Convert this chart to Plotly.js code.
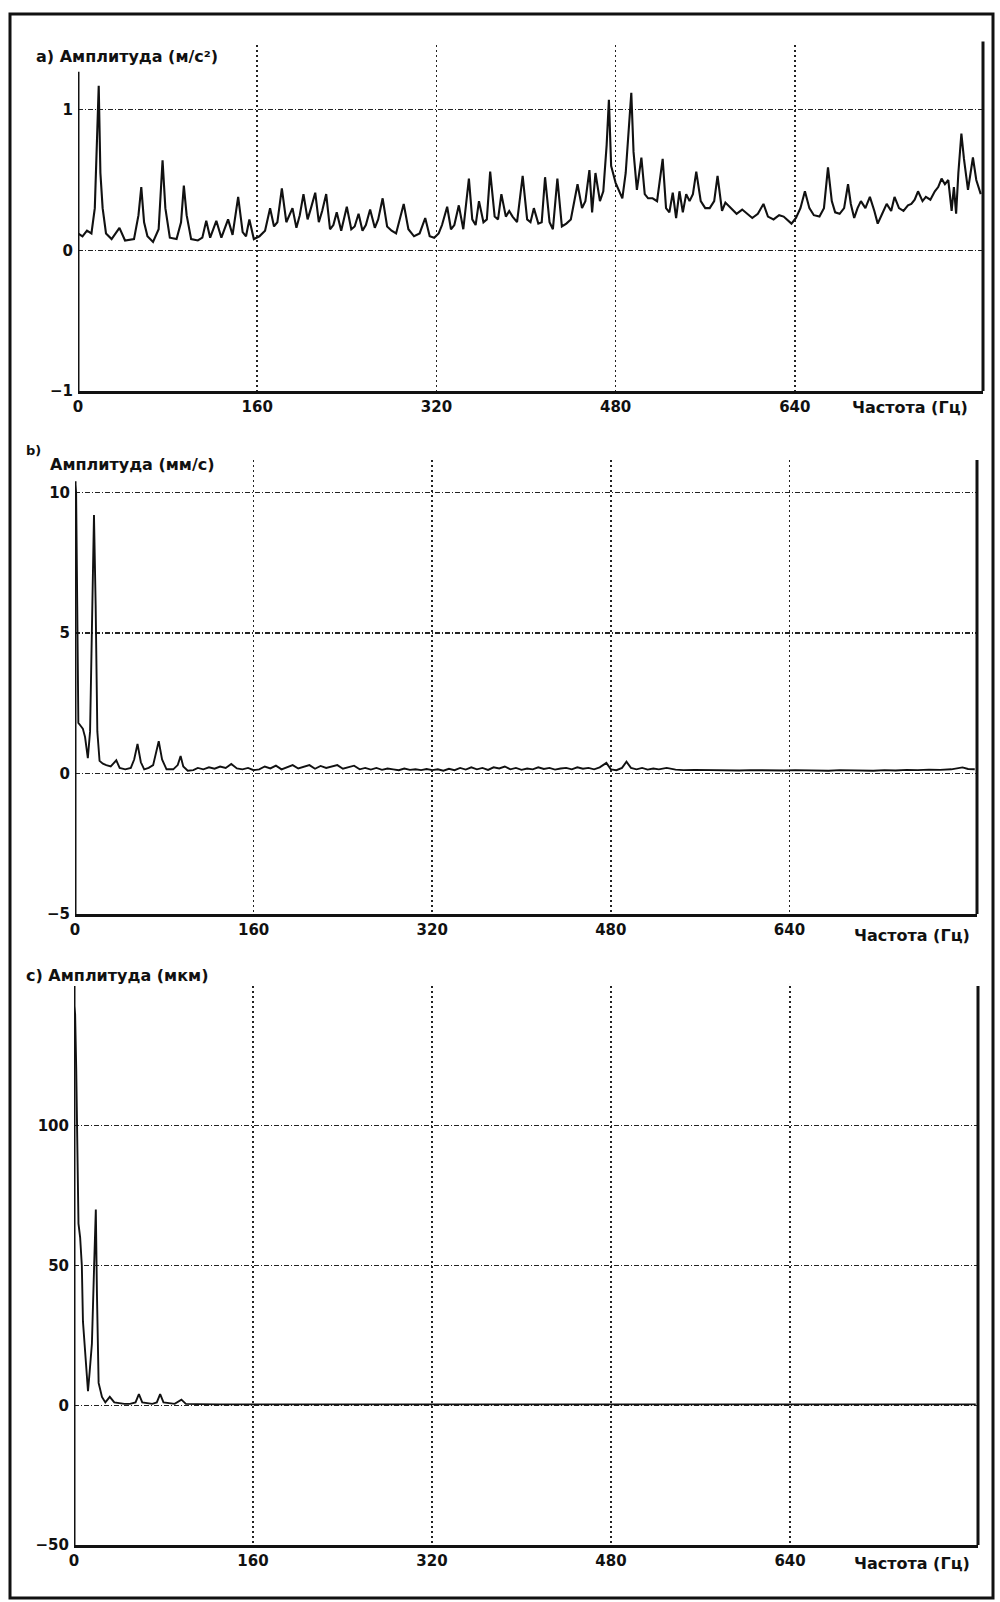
<!DOCTYPE html>
<html><head><meta charset="utf-8">
<script src="https://cdn.plot.ly/plotly-3.0.1.min.js"></script>
<style>body{margin:0;background:#fff}</style>
</head><body><div id="chart" style="width:1000px;height:1602px"></div>
<script>
// Panel a) acceleration spectrum, m/s^2
const freqA=[0,4,8,12,15,17,18.5,20,22,25,30,37,42,50,54,56.5,59,62,67,72,75.5,78,82,88,92,94.5,97,101,107,111,114.5,118,123.5,128,134,138,143,147,150,153,157,162,167,171.5,175,178,182,186,191.5,195,198,201.3,205,208,211.8,215,218,221.6,225,228,231,235,240,244,247,250.5,254,257,260.8,265,268,272,276,280,284,290.8,295,300,305,310,314,318,322,325,329.6,333,336,340,344,349,352,355,358,362,365,368,372,375,378,382,385,388,392,397,401,404,407,411,414,417,421,424,428,432,436,440,446,450,453,456.6,459,462,466,469,472,474,476,480,484,486,489,492,494,496,499,503,506,509,513,517,522,525,528,531,534,537,540,543,546,549,552,556,560,564,568,571,575,578,583,588,593,598,602,607,612,616,621,626,630,637,641,645,649,653,657,662,666,669.6,673,676,680,684,687.5,690,693,696,699,703,707,711,714,718,722,726,729,733,737,741,744,747,750,754,757,761,765,768,771,774,777,780,782,784,786,788.7,791,794.6,797,799,802,806];
const ampA=[0.12,0.10,0.14,0.12,0.30,0.75,1.17,0.55,0.30,0.12,0.08,0.16,0.07,0.08,0.25,0.45,0.20,0.10,0.06,0.15,0.64,0.30,0.09,0.08,0.20,0.46,0.25,0.08,0.07,0.09,0.21,0.09,0.21,0.09,0.22,0.11,0.38,0.13,0.10,0.22,0.08,0.10,0.14,0.30,0.17,0.20,0.44,0.20,0.30,0.16,0.25,0.40,0.22,0.30,0.41,0.20,0.28,0.40,0.15,0.18,0.27,0.14,0.31,0.15,0.17,0.26,0.14,0.18,0.29,0.16,0.22,0.37,0.17,0.14,0.12,0.33,0.15,0.10,0.12,0.23,0.10,0.09,0.12,0.18,0.31,0.15,0.18,0.32,0.15,0.51,0.22,0.18,0.35,0.20,0.22,0.56,0.24,0.22,0.40,0.24,0.28,0.24,0.20,0.53,0.22,0.20,0.30,0.19,0.20,0.52,0.20,0.15,0.51,0.17,0.19,0.22,0.47,0.30,0.35,0.57,0.27,0.55,0.35,0.42,0.75,1.07,0.60,0.48,0.40,0.37,0.55,0.90,1.12,0.70,0.43,0.66,0.40,0.37,0.37,0.35,0.65,0.30,0.27,0.41,0.23,0.42,0.27,0.40,0.35,0.40,0.56,0.35,0.30,0.30,0.35,0.53,0.28,0.34,0.30,0.26,0.29,0.26,0.23,0.26,0.33,0.24,0.22,0.25,0.24,0.19,0.23,0.30,0.42,0.30,0.25,0.24,0.30,0.59,0.35,0.27,0.26,0.30,0.47,0.33,0.23,0.30,0.35,0.30,0.38,0.28,0.19,0.26,0.33,0.28,0.38,0.30,0.28,0.32,0.33,0.36,0.42,0.35,0.38,0.36,0.42,0.45,0.51,0.47,0.50,0.28,0.45,0.26,0.55,0.83,0.65,0.43,0.55,0.66,0.50,0.40];

// Panel b) velocity spectrum, mm/s
const freqB=[0,1,2,3,5,7,9,11.5,13.5,15,17,18.5,20,22,25,28,32,37,40,45,50,53,56,59,62,66,70,75,78,82,88,92,94.6,97,101,106,110,115,120,125,130,135,140,145,150,155,160,165,170,175,180,185,190,195,200,205,210,215,220,225,230,235,240,245,250,255,260,265,270,275,280,285,290,295,300,305,310,315,320,325,330,335,340,345,350,355,360,365,370,375,380,385,390,395,400,405,410,415,420,425,430,435,440,445,450,455,460,465,470,476,480,485,490,494,498,503,508,513,518,523,530,538,545,555,565,575,585,595,605,615,625,635,645,655,665,675,685,695,705,715,725,735,745,755,765,775,785,790,795,800,806];
const ampB=[10.3,10.0,6.0,1.8,1.7,1.6,1.3,0.55,1.5,5.5,9.2,6.0,1.5,0.45,0.35,0.3,0.25,0.47,0.2,0.15,0.2,0.5,1.05,0.4,0.15,0.2,0.3,1.15,0.5,0.15,0.15,0.3,0.62,0.25,0.1,0.12,0.2,0.15,0.22,0.17,0.25,0.2,0.34,0.18,0.15,0.2,0.12,0.15,0.25,0.18,0.28,0.15,0.22,0.3,0.18,0.25,0.3,0.17,0.27,0.2,0.25,0.3,0.17,0.22,0.28,0.15,0.2,0.14,0.2,0.13,0.18,0.15,0.12,0.18,0.13,0.15,0.12,0.16,0.12,0.15,0.1,0.17,0.12,0.2,0.14,0.22,0.15,0.2,0.13,0.22,0.18,0.25,0.15,0.2,0.13,0.18,0.15,0.22,0.16,0.2,0.14,0.18,0.2,0.15,0.22,0.17,0.2,0.15,0.22,0.38,0.15,0.12,0.2,0.42,0.2,0.15,0.2,0.14,0.18,0.15,0.2,0.14,0.12,0.13,0.12,0.13,0.12,0.11,0.12,0.11,0.12,0.11,0.12,0.11,0.12,0.1,0.12,0.11,0.12,0.1,0.12,0.11,0.13,0.12,0.14,0.13,0.15,0.18,0.22,0.16,0.15];

// Panel c) displacement spectrum, um
const freqC=[0,1,2,3,4,5.5,7,8,10,12.5,14,16,18,19.5,20.5,22,25,28,32,36,45,50,55,58,61,70,74,77,80,90,96,100,110,130,200,300,400,500,600,700,806];
const ampC=[143,140,120,95,65,60,50,30,20,5,12,22,50,70,40,8,3,1,3,1,0.5,0.5,1,4,1,0.5,1,4,1,0.5,2,0.5,0.4,0.3,0.3,0.3,0.3,0.3,0.3,0.3,0.3];

const xTickVals=[0,160,320,480,640];
const xTickText=['0','160','320','480','640'];
const xGridVals=[160,320,480,640];
const yTicksA=[-1,0,1];
const yTicksB=[-5,0,5,10];
const yTicksC=[-50,0,50,100];

const titleA='a) Амплитуда (м/с²)';
const titleB1='b)';
const titleB2='Амплитуда (мм/с)';
const titleC='c) Амплитуда (мкм)';
const xTitle='Частота (Гц)';

const INK='#111';
const tf={family:'DejaVu Sans', size:15, color:INK, weight:'bold'};
const H=1602, W=1000;
const py=v=>1-v/H, px=v=>v/W;

function xax(d0,d1,anchor){
  return {domain:[px(d0),px(d1)], anchor:anchor, range:[0,808], tickmode:'array', tickvals:xTickVals, ticktext:xTickText,
    showgrid:false, zeroline:false, showline:true, linewidth:3, linecolor:INK, ticks:'', tickfont:tf, ticklabelstandoff:0,
    minor:{tickmode:'array', tickvals:xGridVals, showgrid:true, gridcolor:'#222', gridwidth:1.5, griddash:'2px,3px', ticks:''},
    fixedrange:true};
}
function yax(t0,t1,range,ticks,anchor){
  return {domain:[py(t1),py(t0)], anchor:anchor, range:range, tickmode:'array', tickvals:ticks,
    showgrid:true, gridcolor:'#222', gridwidth:1.3, griddash:'5px,2px,1px,2px', zeroline:false, showline:false,
    ticks:'', tickfont:tf, ticklabelstandoff:4, fixedrange:true};
}

const data=[
  {x:freqA, y:ampA, xaxis:'x', yaxis:'y', type:'scatter', mode:'lines', line:{color:INK, width:2.1}, hoverinfo:'skip'},
  {x:freqB, y:ampB, xaxis:'x2', yaxis:'y2', type:'scatter', mode:'lines', line:{color:INK, width:1.9}, hoverinfo:'skip'},
  {x:freqC, y:ampC, xaxis:'x3', yaxis:'y3', type:'scatter', mode:'lines', line:{color:INK, width:1.9}, hoverinfo:'skip'}
];

function ann(text,x,y,size){
  return {text:text, xref:'paper', yref:'paper', x:px(x), y:py(y), xanchor:'left', yanchor:'middle', showarrow:false,
    font:{family:'DejaVu Sans', size:size||16, color:INK, weight:'bold'}};
}

const axLine={color:INK, width:3};
const layout={
  width:W, height:H, margin:{l:0,r:0,t:0,b:0}, showlegend:false,
  paper_bgcolor:'#fff', plot_bgcolor:'#fff',
  xaxis:xax(78,983,'y'), yaxis:yax(45,391,[-1,1.46],yTicksA,'x'),
  xaxis2:xax(75,977,'y2'), yaxis2:yax(460,914,[-5,11.16],yTicksB,'x2'),
  xaxis3:xax(74,978,'y3'), yaxis3:yax(986,1545,[-50,150],yTicksC,'x3'),
  annotations:[
    ann(titleA,34,57,16),
    ann(xTitle,850,407,16),
    ann(titleB1,24,450,13),
    ann(titleB2,48,465,16),
    ann(xTitle,852,935,16),
    ann(titleC,24,975,16),
    ann(xTitle,852,1563,16)
  ],
  shapes:[
    {type:'rect', xref:'paper', yref:'paper', x0:px(10), x1:px(993), y0:py(1598), y1:py(14), line:{color:INK,width:3}},
    {type:'line', xref:'x', yref:'y', x0:0, x1:0, y0:-1, y1:1.27, line:axLine},
    {type:'line', xref:'x domain', yref:'y domain', x0:1, x1:1, y0:0, y1:1.01, line:axLine},
    {type:'line', xref:'x2', yref:'y2', x0:0, x1:0, y0:-5, y1:10.4, line:axLine},
    {type:'line', xref:'x2 domain', yref:'y2 domain', x0:1, x1:1, y0:0, y1:1, line:axLine},
    {type:'line', xref:'x3', yref:'y3', x0:0, x1:0, y0:-50, y1:150, line:axLine},
    {type:'line', xref:'x3 domain', yref:'y3 domain', x0:1, x1:1, y0:0, y1:1, line:axLine}
  ]
};
Plotly.newPlot('chart', data, layout, {staticPlot:true, displayModeBar:false});
</script></body></html>
